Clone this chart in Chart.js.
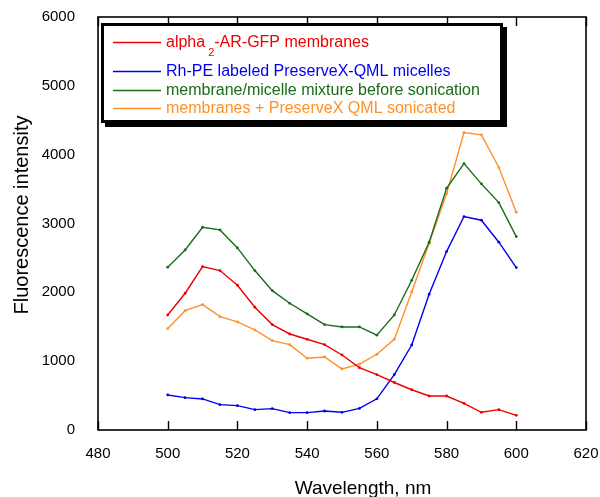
<!DOCTYPE html>
<html>
<head>
<meta charset="utf-8">
<script src="https://cdn.jsdelivr.net/npm/chart.js@4.4.1/dist/chart.umd.min.js"></script>
<style>
  html, body { margin: 0; padding: 0; background: #fff; }
  #wrap { width: 600px; height: 497px; }
</style>
</head>
<body>
<div id="wrap"><canvas id="c" width="600" height="497"></canvas></div>
<script>
// ---- data ----
const wavelengths = [500, 505, 510, 515, 520, 525, 530, 535, 540, 545, 550, 555, 560, 565, 570, 575, 580, 585, 590, 595, 600];
const membranes   = [1671, 1987, 2374, 2316, 2103, 1783, 1531, 1395, 1318, 1240, 1090, 906, 805, 690, 585, 494, 494, 388, 257, 296, 213];
const micelles    = [509, 470, 451, 368, 354, 296, 310, 252, 252, 276, 257, 313, 453, 805, 1235, 1972, 2592, 3101, 3048, 2728, 2359];
const mixture     = [2365, 2616, 2946, 2907, 2645, 2316, 2025, 1841, 1686, 1531, 1497, 1497, 1378, 1671, 2175, 2728, 3512, 3871, 3576, 3304, 2810];
const sonicated   = [1473, 1734, 1822, 1647, 1570, 1453, 1298, 1240, 1042, 1061, 887, 957, 1100, 1318, 2006, 2714, 3430, 4321, 4288, 3813, 3164];
const seriesNames = ['alpha|2|-AR-GFP membranes', 'Rh-PE labeled PreserveX-QML micelles', 'membrane/micelle mixture before sonication', 'membranes + PreserveX QML sonicated'];
const xTicks = [480, 500, 520, 540, 560, 580, 600, 620];
const yTicks = [0, 1000, 2000, 3000, 4000, 5000, 6000];
const xTitle = 'Wavelength, nm';
const yTitle = 'Fluorescence intensity';

const colors = ['#ee0000', '#0000ee', '#1a6b1a', '#ff9126'];
const FONT = "'Liberation Sans', Arial, sans-serif";

function pts(arr) { return wavelengths.map((w, i) => ({ x: w, y: arr[i] })); }
const allSeries = [membranes, micelles, mixture, sonicated];

const datasets = allSeries.map((s, i) => ({
  label: seriesNames[i].replace(/\|/g, ''),
  data: pts(s),
  borderColor: colors[i],
  backgroundColor: colors[i],
  borderWidth: 1.4,
  pointRadius: 1.4,
  pointBorderWidth: 0,
  pointHoverRadius: 1.4,
  tension: 0,
  fill: false
}));

const framePlugin = {
  id: 'frame',
  afterDraw(chart) {
    const { ctx, chartArea: a, scales } = chart;
    ctx.save();
    // frame
    ctx.strokeStyle = '#000';
    ctx.lineWidth = 1.6;
    ctx.strokeRect(a.left, a.top, a.right - a.left, a.bottom - a.top);
    // inward ticks on bottom and top
    ctx.lineWidth = 1.4;
    xTicks.forEach(v => {
      const x = Math.round(scales.x.getPixelForValue(v)) + 0.5;
      ctx.beginPath();
      ctx.moveTo(x, a.bottom); ctx.lineTo(x, a.bottom - 9);
      ctx.moveTo(x, a.top); ctx.lineTo(x, a.top + 9);
      ctx.stroke();
    });
    // axis titles
    ctx.fillStyle = '#000';
    ctx.font = '19px ' + FONT;
    ctx.textAlign = 'center';
    ctx.textBaseline = 'alphabetic';
    ctx.fillText(xTitle, 363, 494);
    ctx.save();
    ctx.translate(28, 215);
    ctx.rotate(-Math.PI / 2);
    ctx.font = '20px ' + FONT;
    ctx.fillText(yTitle, 0, 0);
    ctx.restore();
    // legend box
    const bx = 101, by = 23, bw = 402, bh = 100;
    ctx.fillStyle = '#000';
    ctx.fillRect(bx + 4, by + 4, bw, bh);
    ctx.fillStyle = '#fff';
    ctx.fillRect(bx, by, bw, bh);
    ctx.lineWidth = 3;
    ctx.strokeStyle = '#000';
    ctx.strokeRect(bx + 1.5, by + 1.5, bw - 3, bh - 3);
    const rows = [42, 71, 90, 108];
    ctx.textBaseline = 'middle';
    ctx.textAlign = 'left';
    seriesNames.forEach((name, i) => {
      const y = rows[i];
      ctx.strokeStyle = colors[i];
      ctx.lineWidth = 1.4;
      ctx.beginPath();
      ctx.moveTo(113, y + 0.5); ctx.lineTo(161, y + 0.5);
      ctx.stroke();
      ctx.fillStyle = colors[i];
      const parts = name.split('|');
      let x = 166;
      ctx.font = '16px ' + FONT;
      ctx.fillText(parts[0], x, y + 1);
      x += ctx.measureText(parts[0]).width;
      if (parts.length > 1) {
        ctx.font = '11px ' + FONT;
        ctx.fillText(parts[1], x + 3, y + 11);
        x += ctx.measureText(parts[1]).width + 3;
        ctx.font = '16px ' + FONT;
        ctx.fillText(parts[2], x, y + 1);
      }
    });
    ctx.restore();
  }
};

new Chart(document.getElementById('c'), {
  type: 'line',
  data: { datasets },
  options: {
    responsive: false,
    devicePixelRatio: 1,
    animation: false,
    layout: { padding: { top: 17, right: 14, left: 0, bottom: 0 } },
    plugins: { legend: { display: false }, tooltip: { enabled: false } },
    scales: {
      x: {
        type: 'linear',
        min: 480, max: 620,
        afterBuildTicks(scale) { scale.ticks = xTicks.map(v => ({ value: v })); },
        afterFit(scale) { scale.height = 67; scale.paddingLeft = 0; scale.paddingRight = 0; },
        grid: { display: false },
        border: { display: false },
        ticks: { color: '#000', font: { family: FONT, size: 15 }, padding: 7, maxRotation: 0, callback: v => String(v) },
        title: { display: false }
      },
      y: {
        min: 0, max: 6000,
        afterBuildTicks(scale) { scale.ticks = yTicks.map(v => ({ value: v })); },
        afterFit(scale) { scale.width = 98; scale.paddingTop = 0; scale.paddingBottom = 0; },
        grid: { display: false },
        border: { display: false },
        ticks: { color: '#000', font: { family: FONT, size: 15 }, padding: 15, callback: v => String(v) },
        title: { display: false }
      }
    }
  },
  plugins: [framePlugin]
});
</script>
</body>
</html>
